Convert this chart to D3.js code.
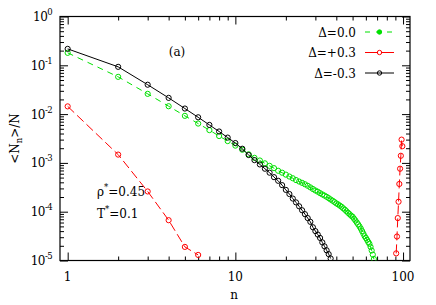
<!DOCTYPE html>
<html>
<head>
<meta charset="utf-8">
<script src="https://cdn.jsdelivr.net/npm/d3@7"></script>
<style>
body { margin: 0; background: #fff; }
svg { display: block; }
svg text { font-family: "DejaVu Serif", serif; }
</style>
</head>
<body>
<div id="chart"></div>
<script>
// cluster size distribution <N_n>/N, three values of Delta
var nGreen = d3.range(1, 68);
var vGreen = [1.8e-1, 5.8e-2, 2.6e-2, 1.45e-2, 9.2e-3, 6.4e-3, 4.7e-3, 3.55e-3, 2.8e-3, 2.26e-3,
	1.86e-3, 1.5e-3, 1.27e-3, 1.12e-3, 9.8e-4, 8.7e-4, 7.8e-4, 6.9e-4, 6.3e-4, 5.75e-4,
	5.25e-4, 4.85e-4, 4.45e-4, 4.15e-4, 3.9e-4, 3.65e-4, 3.4e-4, 3.15e-4, 2.92e-4, 2.72e-4,
	2.57e-4, 2.4e-4, 2.26e-4, 2.14e-4, 2.02e-4, 1.9e-4, 1.78e-4, 1.68e-4, 1.58e-4, 1.48e-4,
	1.41e-4, 1.33e-4, 1.26e-4, 1.17e-4, 1.1e-4, 1.02e-4, 9.5e-5, 8.9e-5, 8.3e-5, 7.9e-5,
	7.2e-5, 6.6e-5, 6.0e-5, 5.5e-5, 5.0e-5, 4.5e-5, 4.0e-5, 3.55e-5, 3.15e-5, 2.9e-5,
	2.65e-5, 2.4e-5, 2.2e-5, 1.9e-5, 1.6e-5, 1.32e-5, 1.07e-5];

var nBlack = d3.range(1, 38);
var vBlack = [2.17e-1, 9.3e-2, 4.0e-2, 2.15e-2, 1.3e-2, 8.6e-3, 6.0e-3, 4.4e-3, 3.3e-3, 2.55e-3,
	1.95e-3, 1.45e-3, 1.14e-3, 9.3e-4, 7.6e-4, 6.3e-4, 5.1e-4, 4.3e-4, 3.5e-4, 2.8e-4,
	2.3e-4, 1.86e-4, 1.55e-4, 1.29e-4, 1.07e-4, 8.9e-5, 7.4e-5, 6.2e-5, 4.8e-5, 4.0e-5,
	3.4e-5, 2.9e-5, 2.35e-5, 1.95e-5, 1.62e-5, 1.35e-5, 1.1e-5];

var nRedSmall = [1, 2, 3, 4, 5, 6];
var vRedSmall = [1.44e-2, 1.48e-3, 2.6e-4, 6.7e-5, 1.9e-5, 1.3e-5];
var nRedLarge = [91, 92, 93, 94, 95, 96, 97, 98, 99];
var vRedLarge = [1.4e-5, 3.1e-5, 7.4e-5, 1.6e-4, 3.7e-4, 7.6e-4, 1.4e-3, 3.0e-3, 2.2e-3];

var legendLabels = ["\u0394=0.0", "\u0394=+0.3", "\u0394=-0.3"];
var yTickExp = [0, -1, -2, -3, -4, -5];
var xTickLabels = ["1", "10", "100"];

var width = 436, height = 305;
var pLeft = 60, pRight = 410, pTop = 16.5, pBottom = 260.5;

var svg = d3.select("#chart").append("svg")
	.attr("width", width).attr("height", height);

var x = d3.scaleLog().domain([0.9, 110]).range([pLeft, pRight]);
var y = d3.scaleLog().domain([1e-5, 1]).range([pBottom, pTop]);

var xMajor = [1, 10, 100];
var xMinor = [];
[1, 10].forEach(function(d) {
	for (var k = 2; k <= 9; k++) xMinor.push(k * d);
});
var yMajor = yTickExp.map(function(e) { return Math.pow(10, e); });
var yMinor = [];
yTickExp.slice(1).forEach(function(e) {
	for (var k = 2; k <= 9; k++) yMinor.push(k * Math.pow(10, e));
});

// ticks pointing inward on all four sides
function tickAxis(gen, scale, vals, size, tx, ty) {
	var g = svg.append("g").attr("transform", "translate(" + tx + "," + ty + ")")
		.call(gen(scale).tickValues(vals).tickSize(size).tickFormat(""));
	g.select(".domain").remove();
	g.selectAll("line").attr("stroke", "#000").attr("stroke-width", 1);
}
tickAxis(d3.axisBottom, x, xMajor, -8, 0, pBottom);
tickAxis(d3.axisBottom, x, xMinor, -4, 0, pBottom);
tickAxis(d3.axisTop, x, xMajor, -8, 0, pTop);
tickAxis(d3.axisTop, x, xMinor, -4, 0, pTop);
tickAxis(d3.axisLeft, y, yMajor, -8, pLeft, 0);
tickAxis(d3.axisLeft, y, yMinor, -4, pLeft, 0);
tickAxis(d3.axisRight, y, yMajor, -8, pRight, 0);
tickAxis(d3.axisRight, y, yMinor, -4, pRight, 0);

svg.append("rect").attr("x", pLeft).attr("y", pTop)
	.attr("width", pRight - pLeft).attr("height", pBottom - pTop)
	.attr("fill", "none").attr("stroke", "#000").attr("stroke-width", 1.2);

// tick labels
svg.selectAll("xlab").data(xMajor).enter().append("text")
	.attr("x", function(d) { return x(d); }).attr("y", pBottom + 20)
	.attr("text-anchor", "middle").attr("font-size", "12px")
	.text(function(d, i) { return xTickLabels[i]; });

var ylab = svg.selectAll("ylab").data(yTickExp).enter().append("text")
	.attr("x", 52).attr("y", function(d) { return y(Math.pow(10, d)) + 4.5; })
	.attr("text-anchor", "end").attr("font-size", "12px").attr("letter-spacing", "-0.6px");
ylab.append("tspan").text("10");
ylab.append("tspan").attr("dy", -6).attr("font-size", "8.5px").text(function(d) { return d; });

// axis titles
svg.append("text").attr("x", (pLeft + pRight) / 2 - 1).attr("y", 299)
	.attr("text-anchor", "middle").attr("font-size", "12px").text("n");
var yt = svg.append("text").attr("transform", "translate(19," + ((pTop + pBottom) / 2) + ") rotate(-90)")
	.attr("text-anchor", "middle").attr("font-size", "12px");
yt.append("tspan").text("<N");
yt.append("tspan").attr("dy", 3).attr("font-size", "8.5px").text("n");
yt.append("tspan").attr("dy", -3).text(">/N");

// annotations
svg.append("text").attr("x", 177).attr("y", 56).attr("text-anchor", "middle")
	.attr("font-size", "12px").text("(a)");
var rho = svg.append("text").attr("x", 97).attr("y", 196).attr("font-size", "12px");
rho.append("tspan").text("\u03c1");
rho.append("tspan").attr("dy", -6).attr("font-size", "8.5px").text("*");
rho.append("tspan").attr("dy", 6).text("=0.45");
var temp = svg.append("text").attr("x", 97).attr("y", 218).attr("font-size", "12px");
temp.append("tspan").text("T");
temp.append("tspan").attr("dy", -6).attr("font-size", "8.5px").text("*");
temp.append("tspan").attr("dy", 6).text("=0.1");

// data
svg.append("clipPath").attr("id", "plotclip").append("rect")
	.attr("x", pLeft).attr("y", pTop).attr("width", pRight - pLeft).attr("height", pBottom - pTop);
var plot = svg.append("g").attr("clip-path", "url(#plotclip)");

var line = d3.line()
	.x(function(d) { return x(d[0]); })
	.y(function(d) { return y(d[1]); });

function drawSeries(ns, vs, color, dash) {
	var pts = ns.map(function(n, i) { return [n, vs[i]]; });
	plot.append("path").datum(pts).attr("d", line)
		.attr("fill", "none").attr("stroke", color).attr("stroke-width", 1)
		.attr("stroke-dasharray", dash);
	plot.selectAll(null).data(pts).enter().append("circle")
		.attr("cx", function(d) { return x(d[0]); })
		.attr("cy", function(d) { return y(d[1]); })
		.attr("r", 2.6).attr("fill", "none").attr("stroke", color).attr("stroke-width", 1);
}
drawSeries(nGreen, vGreen, "#00e000", "6,5");
drawSeries(nRedSmall, vRedSmall, "#ff0000", "9,4");
drawSeries(nRedLarge, vRedLarge, "#ff0000", "9,4");
drawSeries(nBlack, vBlack, "#000000", null);

// legend
var legColors = ["#00e000", "#ff0000", "#000000"];
var legDash = ["5,6", "13,3", null];
legendLabels.forEach(function(lab, i) {
	var ly = 32 + i * 20.5;
	svg.append("text").attr("x", 356).attr("y", ly + 4.5).attr("text-anchor", "end")
		.attr("font-size", "12px").text(lab);
	svg.append("line").attr("x1", 365).attr("x2", 394).attr("y1", ly).attr("y2", ly)
		.attr("stroke", legColors[i]).attr("stroke-width", 1).attr("stroke-dasharray", legDash[i]);
	svg.append("circle").attr("cx", 379.5).attr("cy", ly).attr("r", 2.2)
		.attr("fill", i == 0 ? legColors[i] : "none").attr("stroke", legColors[i]).attr("stroke-width", 1);
});
</script>
</body>
</html>
